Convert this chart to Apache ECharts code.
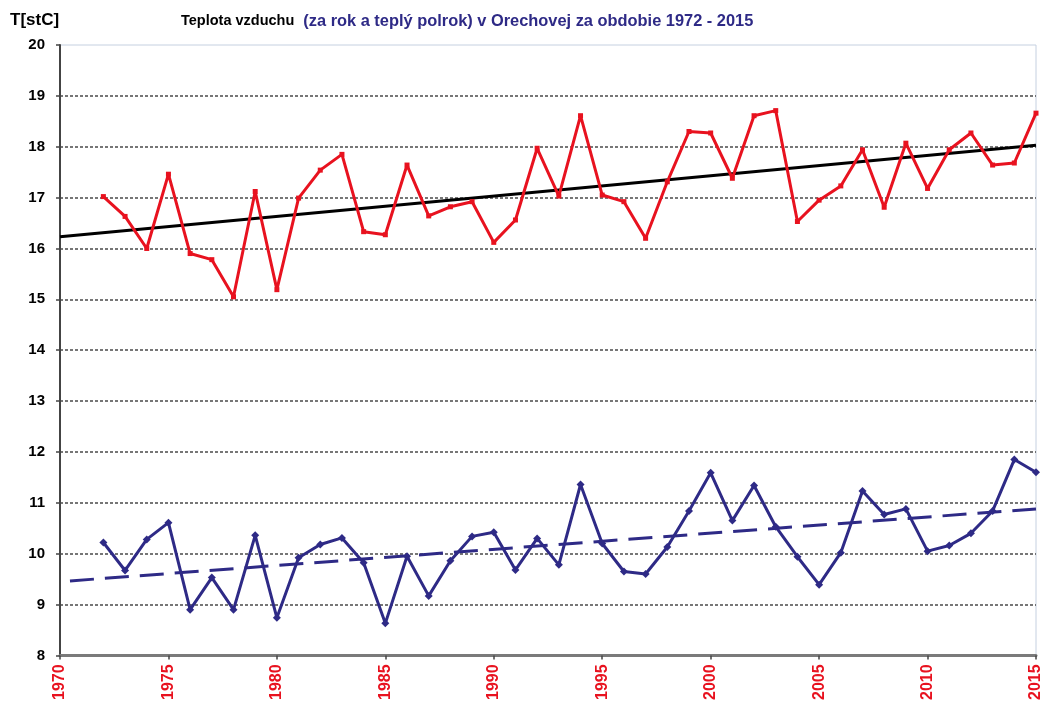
<!DOCTYPE html>
<html><head><meta charset="utf-8">
<script src="https://cdn.jsdelivr.net/npm/echarts@6/dist/echarts.min.js"></script>
<style>html,body{margin:0;padding:0;background:#fff}#c{width:1044px;height:703px}</style>
</head><body><div id="c"></div>
<script>
const years = [1972,1973,1974,1975,1976,1977,1978,1979,1980,1981,1982,1983,1984,1985,1986,1987,1988,1989,1990,1991,1992,1993,1994,1995,1996,1997,1998,1999,2000,2001,2002,2003,2004,2005,2006,2007,2008,2009,2010,2011,2012,2013,2014,2015];
const warmHalf = [17.02,16.63,16.0,17.46,15.9,15.78,15.05,17.12,15.19,16.99,17.54,17.85,16.33,16.27,17.64,16.64,16.82,16.92,16.12,16.56,17.97,17.03,18.61,17.05,16.92,16.2,17.31,18.3,18.27,17.38,18.61,18.71,16.53,16.95,17.23,17.94,16.81,18.07,17.18,17.94,18.27,17.64,17.68,18.66];
const annual = [10.22,9.67,10.28,10.61,8.9,9.53,8.9,10.36,8.74,9.92,10.18,10.31,9.82,8.63,9.95,9.17,9.86,10.34,10.42,9.68,10.3,9.78,11.36,10.2,9.65,9.6,10.13,10.84,11.59,10.65,11.34,10.53,9.94,9.39,10.02,11.23,10.77,10.88,10.05,10.16,10.4,10.84,11.85,11.6];
const trendYears = [1970, 2015];
const warmTrend = [16.23, 18.03];
const annualTrend = [9.45, 10.88];
const xTicks = [1970,1975,1980,1985,1990,1995,2000,2005,2010,2015];

const pair = (xs, ys) => xs.map((x,i)=>[x, ys[i]]);
const chart = echarts.init(document.getElementById('c'), null, {renderer:'canvas'});
const RED = '#e8121f', BLUE = '#2e2a86';
const FONT = 'Liberation Sans, Arial, sans-serif';
const gridColors = Array(12).fill('#4a4a4a').concat(['rgba(0,0,0,0)']);
chart.setOption({
  animation:false,
  backgroundColor:'#fff',
  title:{
    left:176, top:7,
    text:'{a|Teplota vzduchu}{s| }{b|(za rok a teplý polrok) v Orechovej za obdobie 1972 - 2015}',
    textStyle:{rich:{
      a:{fontFamily:FONT, fontWeight:'bold', fontSize:14.5, color:'#000'},
      s:{width:9},
      b:{fontFamily:FONT, fontWeight:'bold', fontSize:16.4, color:BLUE}
    }}
  },
  grid:{left:60, right:4, top:45, bottom:47, containLabel:false, show:true, borderColor:'#c5d0e0', borderWidth:1},
  xAxis:{
    type:'value', min:1970, max:2015, interval:5,
    axisLine:{show:true, lineStyle:{color:'#7a7a7a', width:3}},
    axisTick:{show:true, length:4, lineStyle:{color:'#444', width:1.5}},
    splitLine:{show:false},
    axisLabel:{rotate:90, color:RED, fontWeight:'bold', fontSize:16, fontFamily:FONT, margin:9,
      formatter: v => String(v)},
  },
  yAxis:{
    type:'value', min:8, max:20, interval:1,
    name:'T[stC]', nameLocation:'end', nameGap:16,
    nameTextStyle:{color:'#000', fontWeight:'bold', fontSize:17, fontFamily:FONT, align:'left', padding:[0,0,0,-50]},
    axisLine:{show:true, lineStyle:{color:'#444', width:2}},
    axisTick:{show:true, length:4, inside:false, lineStyle:{color:'#444', width:1.5}},
    splitLine:{show:true, lineStyle:{color:gridColors, width:1.5, type:[3,2]}},
    axisLabel:{color:'#000', fontWeight:'bold', fontSize:15, fontFamily:FONT, margin:15,
      formatter: v => String(v)}
  },
  series:[
    {type:'line', data:pair(years, warmHalf), symbol:'rect', symbolSize:5, showSymbol:true,
     lineStyle:{color:RED, width:3}, itemStyle:{color:RED}, z:3},
    {type:'line', data:pair(years, annual), symbol:'diamond', symbolSize:8, showSymbol:true,
     lineStyle:{color:BLUE, width:3}, itemStyle:{color:BLUE}, z:3},
    {type:'line', data:pair(trendYears, warmTrend), symbol:'none',
     lineStyle:{color:'#000', width:3}, z:2},
    {type:'line', data:pair(trendYears, annualTrend), symbol:'none',
     lineStyle:{color:BLUE, width:3, type:[24,11], dashOffset:-10}, z:2}
  ]
});
</script></body></html>
